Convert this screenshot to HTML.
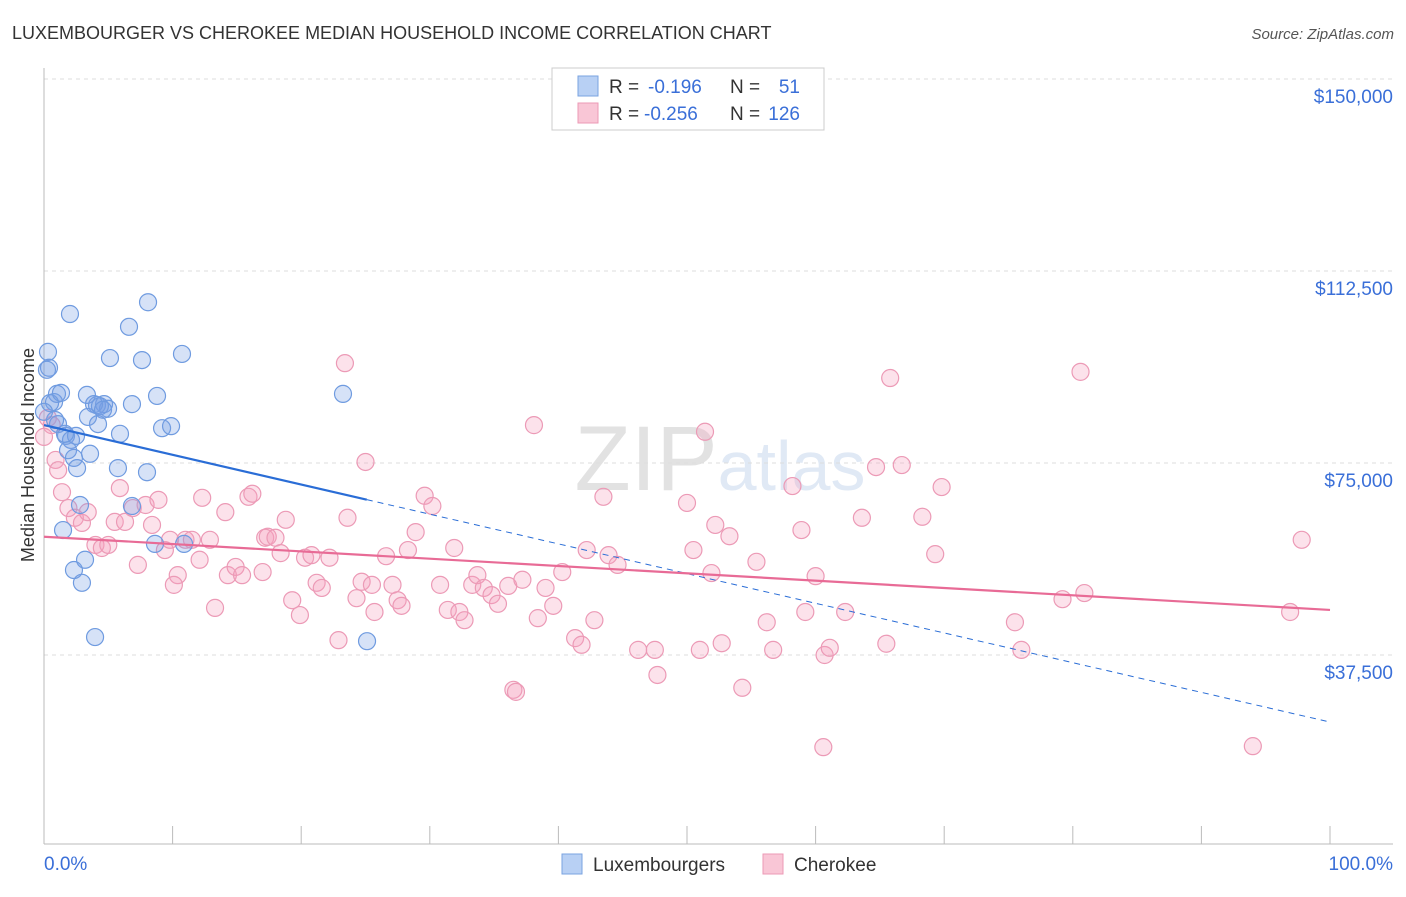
<!DOCTYPE html>
<html><head><meta charset="utf-8"><style>
body{margin:0;background:#fff;font-family:"Liberation Sans",sans-serif;}
svg text{font-family:"Liberation Sans",sans-serif;}
</style></head><body>
<svg id="chart" width="1406" height="892" xmlns="http://www.w3.org/2000/svg">
<text x="12" y="39" font-size="18" fill="#333">LUXEMBOURGER VS CHEROKEE MEDIAN HOUSEHOLD INCOME CORRELATION CHART</text>
<text x="1394" y="39" font-size="15" fill="#555" font-style="italic" text-anchor="end">Source: ZipAtlas.com</text>
<text x="720" y="490" font-size="92" fill="#e6e6e6" text-anchor="middle" font-family="Liberation Serif"><tspan fill="#e2e2e2">ZIP</tspan><tspan fill="#e0e9f5" font-family="Liberation Sans" font-size="70">atlas</tspan></text>
<g id="grid"></g>
<g id="axes"></g>
<g id="pts"></g>
<g id="trends"></g>
<text transform="translate(34,455) rotate(-90)" font-size="18" fill="#333" text-anchor="middle">Median Household Income</text>
<g>
<rect x="552" y="68" width="272" height="62" fill="#fff" stroke="#ccc"/>
<rect x="578" y="76" width="20" height="20" fill="#b8d0f4" stroke="#7aa3e0"/>
<rect x="578" y="103" width="20" height="20" fill="#f9c6d6" stroke="#ec9ab6"/>
<text x="609" y="93" font-size="19" fill="#333">R =</text>
<text x="648" y="93" font-size="19" fill="#3a6fd8">-0.196</text>
<text x="730" y="93" font-size="19" fill="#333">N =</text>
<text x="800" y="93" font-size="19" fill="#3a6fd8" text-anchor="end">51</text>
<text x="609" y="120" font-size="19" fill="#333">R =</text>
<text x="644" y="120" font-size="19" fill="#3a6fd8">-0.256</text>
<text x="730" y="120" font-size="19" fill="#333">N =</text>
<text x="800" y="120" font-size="19" fill="#3a6fd8" text-anchor="end">126</text>
</g>
<g>
<rect x="562" y="854" width="20" height="20" fill="#b8d0f4" stroke="#7aa3e0"/>
<text x="593" y="871" font-size="19" fill="#333">Luxembourgers</text>
<rect x="763" y="854" width="20" height="20" fill="#f9c6d6" stroke="#ec9ab6"/>
<text x="794" y="871" font-size="19" fill="#333">Cherokee</text>
</g>
</svg>
<script>
const yTicks=[150000,112500,75000,37500];
const yTickLabels=["$150,000","$112,500","$75,000","$37,500"];
const xTickLabels=["0.0%","100.0%"];
const luxX=[0.31,0.39,0.23,2.02,6.61,8.09,5.13,7.62,10.73,1.01,0.78,0.47,3.34,4.12,4.67,4.98,3.89,6.84,8.79,23.25,1.32,3.42,4.20,5.91,9.18,9.88,1.09,1.71,2.10,2.49,1.87,2.33,3.58,2.57,5.75,8.01,2.80,6.84,1.48,8.63,10.89,3.19,2.33,2.95,3.97,25.12,0.86,1.63,4.35,4.59,0.0];
const luxY=[96.7,93.6,93.2,104.1,101.6,106.4,95.5,95.1,96.3,88.5,86.9,86.7,88.3,86.3,86.5,85.6,86.5,86.5,88.1,88.5,88.7,84.0,82.6,80.7,81.8,82.2,82.6,80.3,79.5,80.3,77.5,76.0,76.8,74.0,74.0,73.2,66.8,66.6,61.9,59.2,59.2,56.1,54.1,51.6,41.0,40.2,83.4,80.7,86.1,85.4,85.0];
const cheX=[0.3,0.6,0.9,1.4,1.9,2.4,2.95,3.4,4.0,4.5,5.0,5.5,5.9,6.3,6.9,7.3,7.9,8.4,8.9,9.4,9.8,10.4,10.1,11.0,11.5,12.1,12.3,12.9,13.3,14.1,14.3,14.9,15.4,15.9,16.2,17.0,17.2,17.4,18.0,18.4,18.8,19.3,19.9,20.3,20.8,21.2,21.6,22.2,22.9,23.4,23.6,24.3,24.7,25.0,25.5,25.7,26.6,27.1,27.5,27.8,28.3,28.9,29.6,30.2,30.8,31.4,31.9,32.3,32.7,33.3,33.7,34.2,34.8,35.3,36.1,36.5,36.7,37.2,38.1,38.4,39.0,39.6,40.3,41.3,41.8,42.2,42.8,43.5,43.9,44.6,46.2,47.5,47.7,50.0,50.5,51.0,51.4,51.9,52.2,52.7,53.3,54.3,55.4,56.2,56.7,58.2,58.9,59.2,60.0,60.7,61.1,60.6,62.3,63.6,64.7,65.5,65.8,66.7,68.3,69.3,69.8,75.5,76.0,79.2,80.6,80.9,94.0,96.9,97.8,0,1.1];
const cheY=[83.8,82.4,75.6,69.3,66.2,64.3,63.3,65.4,59.0,58.4,59.0,63.5,70.1,63.5,66.2,55.1,66.8,62.9,67.8,58.0,60.0,53.1,51.2,60.0,60.0,56.1,68.2,60.0,46.7,65.4,53.1,54.7,53.1,68.4,69.0,53.7,60.4,60.6,60.4,57.4,63.9,48.2,45.3,56.5,57.0,51.6,50.6,56.5,40.4,94.5,64.3,48.6,51.8,75.2,51.2,45.9,56.8,51.2,48.2,47.1,58.0,61.5,68.6,66.6,51.2,46.3,58.4,45.9,44.3,51.2,53.1,50.6,49.2,47.5,51.0,30.7,30.3,52.2,82.4,44.7,50.6,47.1,53.7,40.8,39.5,58.0,44.3,68.4,57.0,55.1,38.5,38.5,33.6,67.2,58.0,38.5,81.1,53.5,62.9,39.8,60.7,31.1,55.7,43.9,38.5,70.5,61.9,45.9,52.9,37.5,38.9,19.5,45.9,64.3,74.2,39.7,91.6,74.6,64.5,57.2,70.3,43.9,38.5,48.4,92.8,49.6,19.7,45.9,60.0,80.1,73.6];
const luxTrend=[82.4,24.4]; const luxSolidEnd=25.1;
const cheTrend=[60.6,46.3];

const NS="http://www.w3.org/2000/svg";
const xs=p=>44+p*12.86;
const ys=v=>79+(150-v)/37.5*192;
function mk(t,a,parent){const e=document.createElementNS(NS,t);for(const k in a)e.setAttribute(k,a[k]);parent.appendChild(e);return e;}
const grid=document.getElementById('grid'),axes=document.getElementById('axes'),pts=document.getElementById('pts'),tr=document.getElementById('trends');
yTicks.forEach((v,i)=>{
 const l=mk('line',{x1:44,x2:1393,y1:ys(v/1000),y2:ys(v/1000),stroke:'#ddd','stroke-dasharray':'4,4'},grid);
 
 
 const t=mk('text',{x:1393,y:ys(v/1000)+24,'font-size':19,fill:'#3a6fd8','text-anchor':'end'},axes);
 t.textContent=yTickLabels[i];
 
 
});
const ax=mk('line',{x1:44,x2:44,y1:68,y2:844,stroke:'#bbb'},axes);


const bx=mk('line',{x1:44,x2:1393,y1:844,y2:844,stroke:'#bbb'},axes);


for(let i=0;i<=10;i++){
 const tk=mk('line',{x1:xs(i*10),x2:xs(i*10),y1:826,y2:844,stroke:'#bbb'},axes);
 
 
}
const xl0=mk('text',{x:44,y:870,'font-size':19,fill:'#3a6fd8'},axes);xl0.textContent=xTickLabels[0];


const xl1=mk('text',{x:1393,y:870,'font-size':19,fill:'#3a6fd8','text-anchor':'end'},axes);xl1.textContent=xTickLabels[1];


cheX.forEach((x,i)=>{
 const c=mk('circle',{cx:xs(x),cy:ys(cheY[i]),r:8.5,fill:'rgba(244,160,190,0.3)',stroke:'#ec9ab6','stroke-width':1.2},pts);
 
 
});
luxX.forEach((x,i)=>{
 const c=mk('circle',{cx:xs(x),cy:ys(luxY[i]),r:8.5,fill:'rgba(120,160,230,0.3)',stroke:'#6f9be0','stroke-width':1.2},pts);
 
 
});
const lv=p=>luxTrend[0]+(luxTrend[1]-luxTrend[0])*p/100;
const l1=mk('line',{x1:xs(0),y1:ys(lv(0)),x2:xs(luxSolidEnd),y2:ys(lv(luxSolidEnd)),stroke:'#2a6dd6','stroke-width':2.2},tr);


const l2=mk('line',{x1:xs(luxSolidEnd),y1:ys(lv(luxSolidEnd)),x2:xs(100),y2:ys(lv(100)),stroke:'#2a6dd6','stroke-width':1,'stroke-dasharray':'6,5'},tr);


const l3=mk('line',{x1:xs(0),y1:ys(cheTrend[0]),x2:xs(100),y2:ys(cheTrend[1]),stroke:'#e86b96','stroke-width':2.2},tr);


</script>
</body></html>
